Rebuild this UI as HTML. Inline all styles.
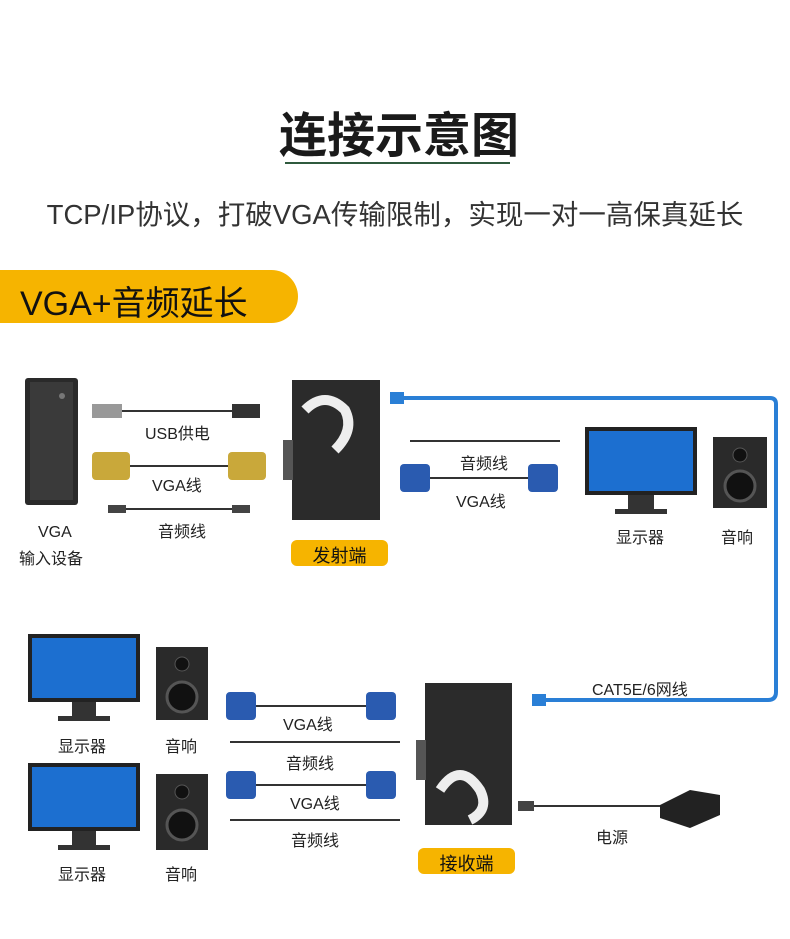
<!DOCTYPE html>
<html><head><meta charset="utf-8"><style>
body{margin:0;width:790px;height:939px;background:#fff;position:relative;overflow:hidden;font-family:"Liberation Sans","Noto Sans CJK SC",sans-serif;}
.t{position:absolute;white-space:nowrap;color:#222;}
</style></head><body>
<div class="t" style="left:4px;width:790px;text-align:center;top:96px;font-size:48px;color:#1a1a1a;font-weight:bold;">连接示意图</div>
<div style="position:absolute;left:285px;top:162px;width:225px;height:2px;background:#2f5a3e;"></div>
<div class="t" style="left:0;width:790px;text-align:center;top:192px;font-size:27.5px;color:#333;">TCP/IP协议，打破VGA传输限制，实现一对一高保真延长</div>
<div style="position:absolute;left:0;top:270px;width:298px;height:53px;background:#f6b400;border-radius:0 27px 27px 0;"></div>
<div class="t" style="left:20px;top:276px;font-size:34px;color:#111;">VGA+音频延长</div>

<svg width="790" height="939" style="position:absolute;left:0;top:0" xmlns="http://www.w3.org/2000/svg">
<path d="M400 398 H770 Q776 398 776 404 V692 Q776 700 768 700 H545" fill="none" stroke="#2a7fd6" stroke-width="4"/>
<rect x="390" y="392" width="14" height="12" fill="#2a7fd6"/>
<rect x="532" y="694" width="14" height="12" fill="#2a7fd6"/>
<rect x="25" y="378" width="53" height="127" rx="3" fill="#2a2a2a"/>
<rect x="30" y="382" width="43" height="118" fill="#3a3a3a"/>
<circle cx="62" cy="396" r="3" fill="#777"/>
<g stroke="#333" stroke-width="2"><line x1="120" y1="411" x2="235" y2="411"/><line x1="130" y1="466" x2="230" y2="466"/><line x1="120" y1="509" x2="238" y2="509"/></g>
<rect x="92" y="404" width="30" height="14" fill="#999"/><rect x="232" y="404" width="28" height="14" fill="#333"/>
<rect x="92" y="452" width="38" height="28" rx="4" fill="#c9a83a"/><rect x="228" y="452" width="38" height="28" rx="4" fill="#c9a83a"/>
<rect x="108" y="505" width="18" height="8" fill="#444"/><rect x="232" y="505" width="18" height="8" fill="#444"/>
<rect x="292" y="380" width="88" height="140" fill="#2b2b2b"/>
<path d="M305 410 q20 -20 40 0 q10 20 -10 40" stroke="#eee" stroke-width="10" fill="none"/>
<rect x="283" y="440" width="10" height="40" fill="#555"/>
<g stroke="#333" stroke-width="2"><line x1="410" y1="441" x2="560" y2="441"/><line x1="420" y1="478" x2="540" y2="478"/></g>
<rect x="400" y="464" width="30" height="28" rx="4" fill="#2a5bb0"/><rect x="528" y="464" width="30" height="28" rx="4" fill="#2a5bb0"/>
<rect x="585" y="427" width="112" height="68" fill="#222"/><rect x="589" y="431" width="104" height="60" fill="#1c6fd0"/>
<rect x="628" y="495" width="26" height="14" fill="#333"/><rect x="615" y="509" width="52" height="5" fill="#333"/>
<rect x="713" y="437" width="54" height="71" fill="#2a2a2a"/><circle cx="740" cy="486" r="15" fill="#111" stroke="#555" stroke-width="3"/><circle cx="740" cy="455" r="7" fill="#111" stroke="#555"/>
<g>
<rect x="28" y="634" width="112" height="68" fill="#222"/><rect x="32" y="638" width="104" height="60" fill="#1c6fd0"/>
<rect x="72" y="702" width="24" height="14" fill="#333"/><rect x="58" y="716" width="52" height="5" fill="#333"/>
<rect x="156" y="647" width="52" height="73" fill="#2a2a2a"/><circle cx="182" cy="697" r="15" fill="#111" stroke="#555" stroke-width="3"/><circle cx="182" cy="664" r="7" fill="#111" stroke="#555"/>
<rect x="28" y="763" width="112" height="68" fill="#222"/><rect x="32" y="767" width="104" height="60" fill="#1c6fd0"/>
<rect x="72" y="831" width="24" height="14" fill="#333"/><rect x="58" y="845" width="52" height="5" fill="#333"/>
<rect x="156" y="774" width="52" height="76" fill="#2a2a2a"/><circle cx="182" cy="825" r="15" fill="#111" stroke="#555" stroke-width="3"/><circle cx="182" cy="792" r="7" fill="#111" stroke="#555"/>
</g>
<g stroke="#333" stroke-width="2"><line x1="250" y1="706" x2="380" y2="706"/><line x1="230" y1="742" x2="400" y2="742"/><line x1="250" y1="785" x2="380" y2="785"/><line x1="230" y1="820" x2="400" y2="820"/><line x1="530" y1="806" x2="660" y2="806"/></g>
<rect x="226" y="692" width="30" height="28" rx="4" fill="#2a5bb0"/><rect x="366" y="692" width="30" height="28" rx="4" fill="#2a5bb0"/>
<rect x="226" y="771" width="30" height="28" rx="4" fill="#2a5bb0"/><rect x="366" y="771" width="30" height="28" rx="4" fill="#2a5bb0"/>
<rect x="425" y="683" width="87" height="142" fill="#2b2b2b"/>
<path d="M440 790 q20 -30 40 0 q10 20 -10 30" stroke="#eee" stroke-width="10" fill="none"/>
<rect x="416" y="740" width="10" height="40" fill="#555"/>
<path d="M660 805 L690 790 L720 795 L720 815 L690 828 L660 818 Z" fill="#222"/>
<rect x="518" y="801" width="16" height="10" fill="#444"/>
</svg>

<div class="t" style="left:145px;top:420px;font-size:16px;">USB供电</div>
<div class="t" style="left:152px;top:472px;font-size:16px;">VGA线</div>
<div class="t" style="left:158px;top:518px;font-size:16px;">音频线</div>
<div class="t" style="left:38px;top:524px;font-size:16px;">VGA</div>
<div class="t" style="left:19px;top:545px;font-size:16px;">输入设备</div>
<div style="position:absolute;left:291px;top:540px;width:97px;height:26px;background:#f6b400;border-radius:6px;"></div>
<div class="t" style="left:291px;width:97px;text-align:center;top:542px;font-size:18px;color:#111;">发射端</div>
<div class="t" style="left:460px;top:450px;font-size:16px;">音频线</div>
<div class="t" style="left:456px;top:488px;font-size:16px;">VGA线</div>
<div class="t" style="left:616px;top:524px;font-size:16px;">显示器</div>
<div class="t" style="left:721px;top:524px;font-size:16px;">音响</div>
<div class="t" style="left:592px;top:676px;font-size:16px;">CAT5E/6网线</div>
<div class="t" style="left:58px;top:733px;font-size:16px;">显示器</div>
<div class="t" style="left:165px;top:733px;font-size:16px;">音响</div>
<div class="t" style="left:58px;top:861px;font-size:16px;">显示器</div>
<div class="t" style="left:165px;top:861px;font-size:16px;">音响</div>
<div class="t" style="left:283px;top:711px;font-size:16px;">VGA线</div>
<div class="t" style="left:286px;top:750px;font-size:16px;">音频线</div>
<div class="t" style="left:290px;top:790px;font-size:16px;">VGA线</div>
<div class="t" style="left:291px;top:827px;font-size:16px;">音频线</div>
<div class="t" style="left:596px;top:824px;font-size:16px;">电源</div>
<div style="position:absolute;left:418px;top:848px;width:97px;height:26px;background:#f6b400;border-radius:6px;"></div>
<div class="t" style="left:418px;width:97px;text-align:center;top:850px;font-size:18px;color:#111;">接收端</div>
</body></html>
